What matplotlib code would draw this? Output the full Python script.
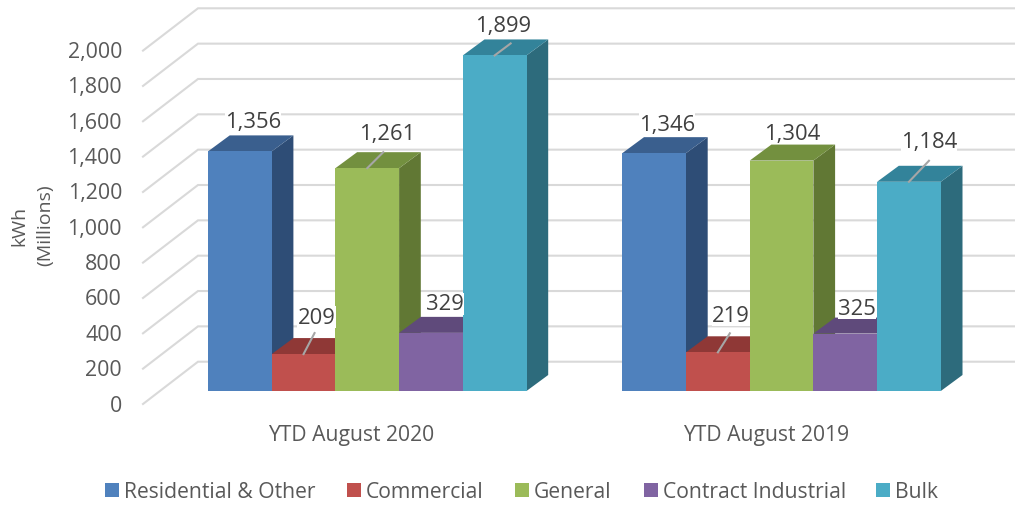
import matplotlib
matplotlib.use("Agg")
import matplotlib.pyplot as plt
from matplotlib.patches import Polygon, Rectangle

plt.rcParams['font.family'] = ['Open Sans', 'DejaVu Sans']

# data
categories = ["YTD August 2020", "YTD August 2019"]
series_names = ["Residential & Other", "Commercial", "General", "Contract Industrial", "Bulk"]
values_2020 = [1356, 209, 1261, 329, 1899]
values_2019 = [1346, 219, 1304, 325, 1184]
y_ticks = [0, 200, 400, 600, 800, 1000, 1200, 1400, 1600, 1800, 2000]

front_colors = ['#4F81BD', '#C0504D', '#9BBB59', '#8064A2', '#4BACC6']
top_colors = ['#3A5F8E', '#8F3836', '#73903F', '#5F4A7B', '#33839A']
side_colors = ['#2E4D76', '#7A2F2D', '#617834', '#4E3C66', '#2D6B7C']

TEXT = '#595959'
GRID = '#D9D9D9'

# pixel scales of the picture
W, H = 1015, 506
PX_X = 63.7     # px per bar
PX_Y = 0.1767   # px per kWh million
X0, Y0 = 208, 392   # pixel of first bar left / value 0

# bar depth, and wall position, in data units
DEPTH_X = 21.7 / PX_X
DEPTH_Y = 16 / PX_Y
GROUP_GAP = (622.3 - 208) / PX_X

# label offsets from centre of bar top, px
label_off = [[(13, -30), (13, -37), (20, -35), (14, -29), (8, -30)],
             [(13, -29), (13, -37), (11, -27), (12, -25), (20, -40)]]
# leader lines, px from centre of bar top, None = no leader
leaders = [[None, (11, -21), (16, -16), None, (16, -12)],
           [None, (12, -19), None, None, (20, -21)]]

fig = plt.figure(figsize=(W / 100, H / 100), dpi=100)
ax = fig.add_axes([0, 0, 1, 1])
ax.set_xlim(-X0 / PX_X, (W - X0) / PX_X)
ax.set_ylim(-(H - Y0) / PX_Y, Y0 / PX_Y)
ax.axis('off')

# walls / gridlines
wall_front_x = (143 - X0) / PX_X
wall_back_x = (198 - X0) / PX_X
wall_right_x = (W - X0) / PX_X
front_shift = (391 - 404) / PX_Y
back_shift = (391 - 361.7) / PX_Y
for v in y_ticks:
    ax.plot([wall_front_x, wall_back_x, wall_right_x],
            [v + front_shift, v + back_shift, v + back_shift],
            color=GRID, lw=1.5, solid_joinstyle='miter', zorder=1)
    ax.text(wall_front_x - 21 / PX_X, v + front_shift - 1 / PX_Y, f"{v:,}", ha='right', va='center',
            fontsize=15.4, color=TEXT)

# bars
for g, vals in enumerate([values_2020, values_2019]):
    start = g * GROUP_GAP
    for i, v in enumerate(vals):
        x0 = start + i
        x1 = x0 + 1
        side = [(x1, 0), (x1 + DEPTH_X, DEPTH_Y), (x1 + DEPTH_X, v + DEPTH_Y), (x1, v)]
        top = [(x0, v), (x0 + DEPTH_X, v + DEPTH_Y), (x1 + DEPTH_X, v + DEPTH_Y), (x1, v)]
        ax.add_patch(Polygon(side, closed=True, fc=side_colors[i], ec='none', zorder=2))
        ax.add_patch(Polygon(top, closed=True, fc=top_colors[i], ec='none', zorder=2))
        ax.add_patch(Rectangle((x0, 0), 1, v, fc=front_colors[i], ec='none', zorder=2))

# leaders + labels on top
for g, vals in enumerate([values_2020, values_2019]):
    start = g * GROUP_GAP
    for i, v in enumerate(vals):
        xc = start + i + 0.5
        ox, oy = label_off[g][i]
        ax.text(xc + ox / PX_X, v - oy / PX_Y, f"{v:,}", ha='center', va='center',
                fontsize=15.8, color='#404040', zorder=5,
                bbox=dict(fc='white', ec='none', pad=0.2))
        if leaders[g][i] is not None:
            lx, ly = leaders[g][i]
            ax.plot([xc, xc + lx / PX_X], [v, v - ly / PX_Y], color='#A6A6A6', lw=1.5, zorder=6)

# category labels
for g, name in enumerate(categories):
    ax.text(g * GROUP_GAP + 2.25, (391 - 434) / PX_Y, name, ha='center', va='center',
            fontsize=15.2, color=TEXT)

# axis title, two rotated lines
fig.text(19 / W, 1 - 226 / H, "kWh", rotation=90, ha='center', va='center', fontsize=14, color=TEXT)
fig.text(45 / W, 1 - 225 / H, "(Millions)", rotation=90, ha='center', va='center', fontsize=14, color=TEXT)

# legend
legend_sq = [105, 347, 515, 644, 876]
for name, sx, c in zip(series_names, legend_sq, front_colors):
    fig.patches.append(Rectangle((sx / W, 1 - 498 / H), 14 / W, 14 / H, transform=fig.transFigure,
                                 fc=c, ec='none'))
    fig.text((sx + 19) / W, 1 - 493 / H, name, ha='left', va='center', fontsize=15.2, color=TEXT)

fig.savefig('out.png', dpi=100)
